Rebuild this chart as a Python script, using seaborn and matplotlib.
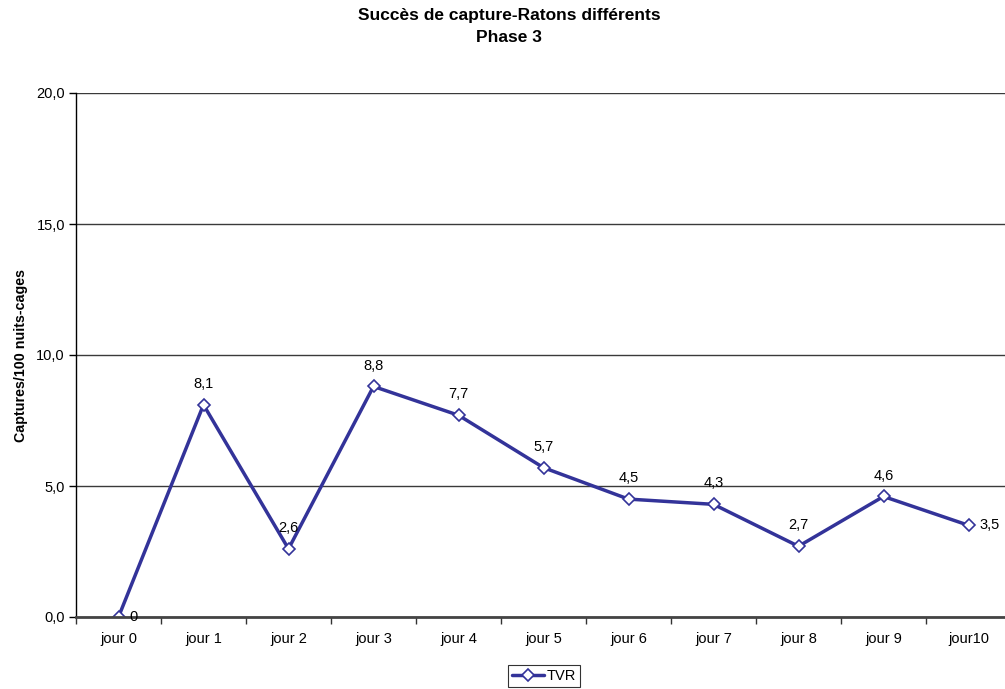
import matplotlib
matplotlib.use("Agg")
import matplotlib.pyplot as plt
import seaborn as sns
import pandas as pd
import numpy as np

days = ["jour 0", "jour 1", "jour 2", "jour 3", "jour 4", "jour 5",
        "jour 6", "jour 7", "jour 8", "jour 9", "jour10"]
tvr = [0, 8.1, 2.6, 8.8, 7.7, 5.7, 4.5, 4.3, 2.7, 4.6, 3.5]
label_right = [True, False, False, False, False, False, False, False, False, False, True]
y_ticks = [0, 5, 10, 15, 20]

sns.set_style("white")
plt.rcParams["font.family"] = ["Liberation Sans", "DejaVu Sans"]
plt.rcParams.update({"text.color": "black", "axes.labelcolor": "black",
                     "xtick.labelcolor": "black", "ytick.labelcolor": "black"})

W, H = 1005, 689
fig = plt.figure(figsize=(W / 100, H / 100), dpi=100)
left, right, top, bottom = 76, 1011, 93, 617
ax = fig.add_axes([left / W, 1 - bottom / H, (right - left) / W, (bottom - top) / H])

df = pd.DataFrame({"x": np.arange(len(days)), "TVR": tvr})
line_color = "#333399"
sns.lineplot(data=df, x="x", y="TVR", ax=ax, color=line_color, linewidth=2.5,
             marker="D", markersize=6.5, markerfacecolor="white",
             markeredgecolor=line_color, markeredgewidth=1.2, label="TVR")

ax.set_xlim(-0.5, len(days) - 0.5)
ax.set_ylim(0, 20)
ax.set_yticks(y_ticks)
ax.set_yticklabels([f"{v:.1f}".replace(".", ",") for v in y_ticks], fontsize=10.5)
ax.set_xticks(np.arange(len(days)))
ax.set_xticklabels(days, fontsize=10.5)
ax.set_xticks(np.arange(len(days) + 1) - 0.5, minor=True)
ax.tick_params(axis="x", which="major", length=0, pad=11)
ax.tick_params(axis="x", which="minor", length=5, width=1, color="#333333", direction="out", bottom=True)
ax.tick_params(axis="y", length=5, width=1, color="black", direction="out", left=True, pad=3)

ax.grid(axis="y", color="#3a3a3a", linewidth=1)
ax.grid(axis="x", visible=False)
ax.set_axisbelow(True)
for s in ["top", "right"]:
    ax.spines[s].set_visible(False)
ax.spines["left"].set_color("black")
ax.spines["left"].set_linewidth(1)
ax.spines["bottom"].set_color("#444444")
ax.spines["bottom"].set_linewidth(2)

for i, (v, r) in enumerate(zip(tvr, label_right)):
    txt = "0" if v == 0 else f"{v:.1f}".replace(".", ",")
    if r:
        ax.annotate(txt, (i, v), xytext=(8, 0), textcoords="offset points",
                    ha="left", va="center", fontsize=10.5)
    else:
        ax.annotate(txt, (i, v), xytext=(0, 10), textcoords="offset points",
                    ha="center", va="bottom", fontsize=10.5)

ax.set_xlabel("")
ax.set_ylabel("Captures/100 nuits-cages", fontsize=10.3, fontweight="bold", labelpad=6)

fig.text(509 / W, 1 - 8 / H, "Succès de capture-Ratons différents\nPhase 3",
         ha="center", va="top", fontsize=12.5, fontweight="bold", linespacing=1.55)

leg = ax.legend(loc="center", bbox_to_anchor=(544 / W, 1 - 676 / H),
                bbox_transform=fig.transFigure, fontsize=10.5, frameon=True,
                fancybox=False, edgecolor="black", handlelength=2.2,
                handletextpad=0.2, borderpad=0.25)
leg.get_frame().set_linewidth(0.8)

fig.savefig("out.png", dpi=100)
